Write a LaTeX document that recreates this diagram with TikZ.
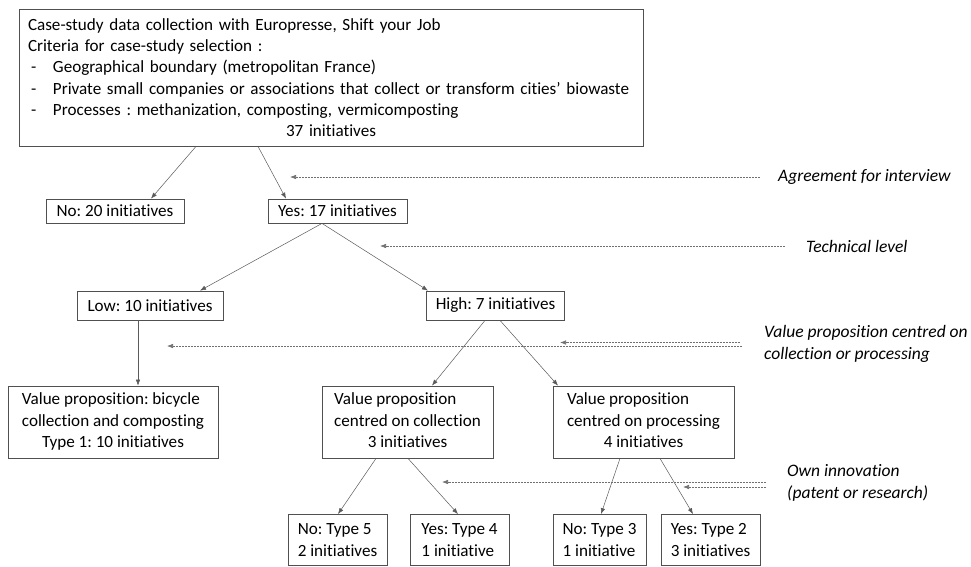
\documentclass[tikz,border=0pt]{standalone}
\usepackage{fontspec}
\setmainfont{Carlito}[Ligatures=NoCommon]
\usetikzlibrary{positioning, shapes, arrows, arrows.meta}
\definecolor{boxgray}{HTML}{505050}
\definecolor{linegray}{HTML}{5A5A5A}
\definecolor{dotgray}{HTML}{707070}
\frenchspacing
\newcommand{\itm}[1]{\makebox[25pt][l]{\hspace{3pt}-}\mbox{#1}}
\newcommand{\vplines}[1]{\begin{tabular}{@{}l@{}}#1\end{tabular}}
\newcommand{\ctr}[1]{\multicolumn{1}{@{}c@{}}{#1}}
\tikzstyle{block} = [rectangle, draw=boxgray, line width=0.8pt, fill=white, align=left, inner xsep=9pt, inner ysep=2pt, font=\fontsize{17.1}{21.3}\selectfont\frenchspacing]
\tikzstyle{note}  = [anchor=west, align=left, inner sep=0pt, font=\fontsize{17.5}{21.3}\selectfont\itshape]
\tikzstyle{arrow} = [-{Latex[length=6pt, width=4.5pt]}, draw=linegray, line width=0.5pt]
\tikzstyle{dotarrow} = [-{Latex[length=6pt, width=4.5pt]}, draw=dotgray, line width=0.6pt, dash pattern=on 2pt off 1pt]
\begin{document}
\begin{tikzpicture}[x=1pt, y=1pt, node distance=100pt]
    \useasboundingbox (0,0) rectangle (971,-566);

    % selection of the cases
    \node [block, minimum width=624pt, minimum height=137pt, text width=606pt] (top) at (331,-77.5)
        {Case-study data collection with Europresse, Shift your Job\\
         Criteria for case-study selection :\\
         \itm{Geographical boundary (metropolitan France)}\\
         \itm{Private small companies or associations that collect or transform cities’ biowaste}\\
         \itm{Processes : methanization, composting, vermicomposting}\\
         \makebox[606pt]{37 initiatives}};

    % agreement for interview
    \node [block, below of=top, node distance=133.5pt, xshift=-216pt, minimum width=138pt, minimum height=24pt] (no1) {No: 20 initiatives};
    \node [block, right of=no1, node distance=222.5pt, minimum width=139pt, minimum height=24pt] (yes1) {Yes: 17 initiatives};

    % technical level
    \node [block, below of=no1, node distance=94.5pt, xshift=35pt, minimum width=146pt, minimum height=29pt] (low) {Low: 10 initiatives};
    \node [block, right of=low, node distance=345.5pt, minimum width=131pt, minimum height=29pt] (high) {High: 7 initiatives};

    % value proposition
    \node [block, below of=low, node distance=116.5pt, xshift=-37pt, minimum width=210pt, minimum height=72pt] (val1)
        {\vplines{Value proposition: bicycle\\collection and composting\\\ctr{Type 1: 10 initiatives}}};
    \node [block, right of=val1, node distance=294.5pt, minimum width=171pt, minimum height=72pt] (val2)
        {\vplines{Value proposition\\centred on collection\\\ctr{3 initiatives}}};
    \node [block, right of=val2, node distance=236pt, minimum width=181pt, minimum height=72pt] (val3)
        {\vplines{Value proposition\\centred on processing\\\ctr{4 initiatives}}};

    % own innovation
    \node [block, below of=val2, node distance=118pt, xshift=-70pt, minimum width=99pt, minimum height=51pt] (no5) {No: Type 5\\2 initiatives};
    \node [block, right of=no5, node distance=122pt, minimum width=99pt, minimum height=51pt] (yes4) {Yes: Type 4\\1 initiative};
    \node [block, right of=yes4, node distance=140pt, minimum width=93pt, minimum height=51pt] (no3) {No: Type 3\\1 initiative};
    \node [block, right of=no3, node distance=111pt, minimum width=99pt, minimum height=51pt] (yes2) {Yes: Type 2\\3 initiatives};

    % criteria
    \node [note] (agree) at (778,-177) {Agreement for interview};
    \node [note] (tech) at (806,-246) {Technical level};
    \node [note] (vp) at (764,-344) {Value proposition centred on\\collection or processing};
    \node [note] (oi) at (787,-483) {Own innovation\\(patent or research)};

    \coordinate (agreetip) at (290,-177);
    \coordinate (techtip) at (380,-246);
    \coordinate (vptip1) at (560,-342.5);
    \coordinate (vptip2) at (167,-346);
    \coordinate (oitip1) at (442,-482);
    \coordinate (oitip2) at (683,-487);

    % arrows of the tree
    \draw [arrow] ([xshift=-135pt]top.south) -- ([xshift=36pt]no1.north);
    \draw [arrow] ([xshift=-73pt]top.south) -- ([xshift=-51.5pt]yes1.north);
    \draw [arrow] ([xshift=-15.5pt]yes1.south) -- ([xshift=50pt]low.north);
    \draw [arrow] ([xshift=-15.5pt]yes1.south) -- ([xshift=-67.5pt]high.north);
    \draw [arrow] ([xshift=-12pt]low.south) -- ([xshift=25pt]val1.north);
    \draw [arrow] ([xshift=-10.5pt]high.south) -- ([xshift=24.5pt]val2.north);
    \draw [arrow] ([xshift=4.5pt]high.south) -- ([xshift=-85.5pt]val3.north);
    \draw [arrow] ([xshift=-31.5pt]val2.south) -- ([xshift=0.5pt]no5.north);
    \draw [arrow] ([xshift=0.5pt]val2.south) -- ([xshift=-1.5pt]yes4.north);
    \draw [arrow] ([xshift=-23.5pt]val3.south) -- ([xshift=1.5pt]no3.north);
    \draw [arrow] ([xshift=16.5pt]val3.south) -- ([xshift=-17.5pt]yes2.north);

    % dotted arrows from the criteria
    \draw [dotarrow] ([xshift=-18pt]agree.west) -- (agreetip);
    \draw [dotarrow] ([xshift=-21pt]tech.west) -- (techtip);
    \draw [dotarrow] ([xshift=-24pt, yshift=1.5pt]vp.west) -- (vptip1);
    \draw [dotarrow] ([xshift=-22pt, yshift=-2pt]vp.west) -- (vptip2);
    \draw [dotarrow] ([xshift=-21pt, yshift=1pt]oi.west) -- (oitip1);
    \draw [dotarrow] ([xshift=-21pt, yshift=-4pt]oi.west) -- (oitip2);
\end{tikzpicture}
\end{document}
